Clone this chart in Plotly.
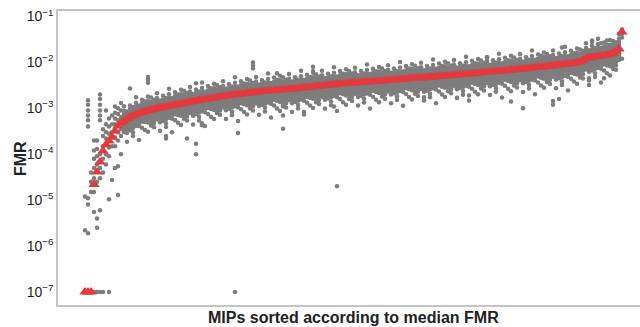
import plotly.graph_objects as go

# Median FMR per MIP (sorted)
median_fmr = [
    1e-7, 1e-7, 1e-7, 2.2e-5, 4.1e-5, 6.8e-5, 1.17e-4, 1.6e-4, 1.95e-4, 2.35e-4,
    3.2e-4, 4.1e-4, 4.8e-4, 5.2e-4, 5.9e-4, 6.5e-4, 6.9e-4, 7.3e-4, 7.8e-4, 8.1e-4,
    8.5e-4, 8.9e-4, 9.2e-4, 9.5e-4, 9.9e-4, 1.02e-3, 1.05e-3, 1.08e-3, 1.11e-3, 1.14e-3,
    1.18e-3, 1.21e-3, 1.25e-3, 1.29e-3, 1.33e-3, 1.37e-3, 1.41e-3, 1.45e-3, 1.5e-3, 1.53e-3,
    1.56e-3, 1.6e-3, 1.64e-3, 1.68e-3, 1.72e-3, 1.78e-3, 1.81e-3, 1.85e-3, 1.9e-3, 1.94e-3,
    1.98e-3, 2.02e-3, 2.05e-3, 2.08e-3, 2.12e-3, 2.16e-3, 2.2e-3, 2.25e-3, 2.28e-3, 2.31e-3,
    2.35e-3, 2.38e-3, 2.41e-3, 2.45e-3, 2.48e-3, 2.51e-3, 2.54e-3, 2.57e-3, 2.6e-3, 2.64e-3,
    2.68e-3, 2.72e-3, 2.76e-3, 2.8e-3, 2.84e-3, 2.89e-3, 2.93e-3, 2.98e-3, 3.03e-3, 3.08e-3,
    3.13e-3, 3.18e-3, 3.23e-3, 3.28e-3, 3.33e-3, 3.39e-3, 3.42e-3, 3.46e-3, 3.5e-3, 3.54e-3,
    3.58e-3, 3.62e-3, 3.66e-3, 3.7e-3, 3.74e-3, 3.78e-3, 3.82e-3, 3.86e-3, 3.9e-3, 3.94e-3,
    3.99e-3, 4.04e-3, 4.1e-3, 4.15e-3, 4.2e-3, 4.25e-3, 4.3e-3, 4.36e-3, 4.42e-3, 4.48e-3,
    4.53e-3, 4.58e-3, 4.6e-3, 4.66e-3, 4.72e-3, 4.78e-3, 4.84e-3, 4.9e-3, 4.96e-3, 5.02e-3,
    5.08e-3, 5.14e-3, 5.2e-3, 5.27e-3, 5.33e-3, 5.37e-3, 5.44e-3, 5.52e-3, 5.6e-3, 5.68e-3,
    5.76e-3, 5.84e-3, 5.92e-3, 6.0e-3, 6.08e-3, 6.16e-3, 6.25e-3, 6.34e-3, 6.43e-3, 6.5e-3,
    6.6e-3, 6.7e-3, 6.8e-3, 6.9e-3, 7.0e-3, 7.1e-3, 7.2e-3, 7.3e-3, 7.4e-3, 7.55e-3,
    7.7e-3, 7.8e-3, 7.9e-3, 8.05e-3, 8.2e-3, 8.35e-3, 8.5e-3, 8.65e-3, 8.8e-3, 8.95e-3,
    9.1e-3, 9.25e-3, 9.4e-3, 9.6e-3, 9.9e-3, 1.02e-2, 1.1e-2, 1.22e-2, 1.27e-2, 1.3e-2,
    1.33e-2, 1.36e-2, 1.39e-2, 1.42e-2, 1.45e-2, 1.5e-2, 1.58e-2, 1.7e-2, 1.95e-2, 4.6e-2,
]

# Replicate FMR values for the first MIPs (read individually)
early_fmr = [
    [1e-7, 1e-7, 2.2e-6, 1.2e-5],
    [1e-7, 1.9e-6, 8e-6, 1.1e-5, 1.5e-3, 1.2e-3, 9e-4, 7e-4, 5.5e-4, 4e-4],
    [1e-7, 1.5e-5, 2.5e-5, 4e-5],
    [1e-7, 5.5e-6, 1.5e-5, 3e-5, 5e-5, 8e-5, 1.2e-4, 2e-4],
    [1e-7, 2.5e-6, 4e-6, 2.5e-5, 6e-5, 9e-5, 1.3e-4, 2e-4],
    [1e-7, 6e-6, 3e-5, 5e-5, 1e-4, 2e-3, 1.6e-3, 1.2e-3, 9e-4, 7e-4, 5.5e-4],
    [1e-7, 4e-5, 8e-5, 1.5e-4, 2.5e-4, 3.5e-4],
    [6e-5, 1e-4, 2.2e-4, 3e-4, 4.5e-4, 9e-4],
    [1e-7, 1.05e-5, 9e-5, 1.4e-4, 2.8e-4, 4e-4, 6e-4],
    [2.75e-5, 1.5e-4, 3e-4, 4.5e-4, 7e-4],
    [5e-5, 1.5e-4, 2.3e-4, 4.5e-4, 6e-4, 8e-4, 1.1e-3],
    [1.3e-5, 5.5e-5, 2e-4, 3e-4, 5.5e-4, 7.5e-4, 1e-3],
    [1e-4, 2.5e-4, 3.5e-4, 6.5e-4, 9e-4, 1.3e-3],
]

# Replicate spread around the median (log10 offsets), per MIP group
rep_offsets = [
    [0.27, 0.18, 0.12, 0.08, 0.05, 0.02, 0.0, -0.03, -0.06, -0.10, -0.14, -0.19, -0.26, -0.34],
    [0.21, 0.15, 0.10, 0.06, 0.03, -0.01, -0.04, -0.07, -0.11, -0.16, -0.22, -0.30, -0.39],
    [0.33, 0.23, 0.16, 0.11, 0.07, 0.04, 0.01, -0.02, -0.05, -0.09, -0.13, -0.18, -0.24],
    [0.16, 0.12, 0.08, 0.05, 0.02, -0.01, -0.04, -0.08, -0.12, -0.17, -0.23, -0.31, -0.50],
    [0.25, 0.17, 0.12, 0.07, 0.03, 0.0, -0.04, -0.08, -0.12, -0.17, -0.22, -0.29],
    [0.19, 0.14, 0.09, 0.06, 0.03, -0.01, -0.05, -0.09, -0.14, -0.20, -0.27, -0.36, -0.44],
    [0.38, 0.26, 0.18, 0.12, 0.08, 0.04, 0.01, -0.03, -0.07, -0.12, -0.17, -0.25],
    [0.17, 0.12, 0.08, 0.04, 0.01, -0.02, -0.06, -0.10, -0.15, -0.21, -0.28, -0.58],
    [0.28, 0.19, 0.13, 0.09, 0.05, 0.02, -0.02, -0.05, -0.09, -0.14, -0.20, -0.33],
    [0.22, 0.16, 0.11, 0.07, 0.04, 0.01, -0.03, -0.07, -0.11, -0.16, -0.23, -0.40],
    [0.31, 0.21, 0.15, 0.10, 0.06, 0.02, -0.01, -0.05, -0.09, -0.13, -0.19, -0.26, -0.46],
]

last_fmr = [5.2e-2, 4.8e-2, 4.2e-2, 3.5e-2, 1.2e-2]

# Isolated outlying replicates
outlier_mip = [50, 84, 56, 56, 56, 51, 66, 66, 66, 39, 39, 73, 83, 64, 76, 76,
               21, 21, 21, 15, 27, 27, 34, 37, 37, 37, 113, 124, 128, 142, 146,
               156, 156, 158, 159, 159, 168, 168, 173, 178, 172, 169, 169, 174,
               134, 134, 152]
outlier_fmr = [1e-7, 2e-5, 1e-2, 8.5e-3, 7.5e-3, 2.9e-4, 1.1e-3, 7e-4, 3.6e-4, 4.3e-4, 4.7e-4,
               8.3e-4, 1.1e-3, 5.8e-3, 8e-3, 6.5e-3, 4.8e-3, 4.2e-3, 3.6e-3, 2.7e-3,
               2.5e-4, 2.2e-4, 2.2e-4, 1.7e-4, 1e-4, 3.5e-3, 1.75e-3, 1.7e-3, 1.9e-3,
               1.4e-3, 1e-3, 1.45e-3, 1.2e-3, 1.6e-3, 3.2e-3, 2.1e-2, 4.5e-3, 3.2e-3,
               4.5e-3, 1.2e-2, 2.6e-2, 3e-2, 2.8e-2, 3e-2, 1.3e-2, 1.1e-2, 1.4e-2]

tick_vals = [1e-1, 1e-2, 1e-3, 1e-4, 1e-5, 1e-6, 1e-7]
tick_text = ["10<sup>\u22121</sup>", "10<sup>\u22122</sup>", "10<sup>\u22123</sup>",
             "10<sup>\u22124</sup>", "10<sup>\u22125</sup>", "10<sup>\u22126</sup>",
             "10<sup>\u22127</sup>"]

# Build replicate point cloud
gx, gy = [], []
n = len(median_fmr)
for i, m in enumerate(median_fmr):
    if i < len(early_fmr):
        vals = early_fmr[i]
    elif i == n - 1:
        vals = last_fmr
    else:
        vals = [m * 10 ** o for o in rep_offsets[i % len(rep_offsets)]]
    gx.extend([i] * len(vals))
    gy.extend(vals)
gx.extend(outlier_mip)
gy.extend(outlier_fmr)

fig = go.Figure()
fig.add_trace(go.Scatter(x=gx, y=gy, mode="markers",
                         marker=dict(symbol="circle", size=4.5, color="#7d7d7d", line=dict(width=0)),
                         showlegend=False, hoverinfo="skip"))
fig.add_trace(go.Scatter(x=list(range(n)), y=median_fmr, mode="markers",
                         marker=dict(symbol="triangle-up", size=10, color="#e23a3e", line=dict(width=0)),
                         showlegend=False))

fig.update_layout(
    width=640, height=327,
    margin=dict(l=58, r=0, t=11, b=22, autoexpand=False),
    paper_bgcolor="white", plot_bgcolor="white",
    font=dict(family="Liberation Sans, Arial, sans-serif", color="#222222"),
    xaxis=dict(range=[-9, 185], showticklabels=False, ticks="", showgrid=False, zeroline=False,
               showline=True, linecolor="#c4c4c4", linewidth=1.5, mirror=True, automargin=False),
    yaxis=dict(type="log", range=[-7.285, -0.88], autorange=False, automargin=False,
               tickvals=tick_vals, ticktext=tick_text, ticks="", showgrid=False, zeroline=False,
               showline=True, linecolor="#c4c4c4", linewidth=1.5,
               tickfont=dict(size=14, color="#222222")),
)
fig.add_annotation(text="<b>FMR</b>", xref="paper", yref="paper", x=-0.0653, y=0.5,
                   xanchor="center", yanchor="middle", textangle=-90, showarrow=False,
                   font=dict(size=16, color="#222222"))
fig.add_annotation(text="<b>MIPs sorted according to median FMR</b>", xref="paper", yref="paper",
                   x=0.508, y=-0.044, xanchor="center", yanchor="middle", showarrow=False,
                   font=dict(size=16, color="#222222"))

fig.write_html("out.html", config={"displayModeBar": False},
               post_script="document.body.style.margin='0';document.body.style.padding='0';")
